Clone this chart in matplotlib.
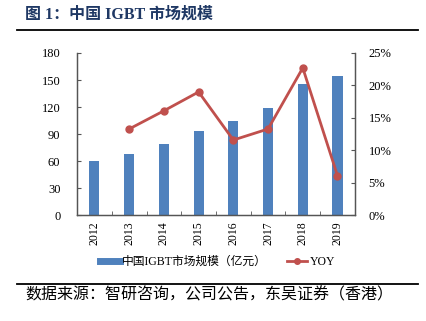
import matplotlib.pyplot as plt
from matplotlib.lines import Line2D
from matplotlib.ticker import FuncFormatter

plt.rcParams['font.family'] = ['Liberation Serif', 'Noto Sans CJK SC']

years = ['2012', '2013', '2014', '2015', '2016', '2017', '2018', '2019']
market_size = [60, 68, 79, 94, 105, 119, 146, 155]
yoy = [None, 0.133, 0.161, 0.190, 0.116, 0.133, 0.227, 0.061]

bar_color = '#4f81bd'
line_color = '#c0504d'

fig = plt.figure(figsize=(4.26, 3.21), dpi=100)
ax = fig.add_axes([0.181, 0.329, 0.652, 0.506])
ax2 = ax.twinx()

x = list(range(len(years)))
ax.bar(x, market_size, width=0.29, color=bar_color, zorder=2)
ax.set_xlim(-0.5, len(years) - 0.5)
ax.set_ylim(0, 180)
ax.set_yticks(range(0, 181, 30))
ax.set_xticks(x)
ax.set_xticklabels(years, rotation=90, fontsize=8.5)
ax.set_xticks([i + 0.5 for i in x[:-1]], minor=True)
ax.tick_params(axis='x', which='major', length=0, pad=4)
ax.tick_params(axis='x', which='minor', direction='in', length=3, color='#555555')
ax.tick_params(axis='y', direction='in', length=3, labelsize=9, pad=12, color='#555555')

yx = [i for i, v in zip(x, yoy) if v is not None]
yv = [v for v in yoy if v is not None]
ax2.plot(yx, yv, color=line_color, linewidth=2, marker='o', markersize=5, zorder=3)
ax2.set_ylim(0, 0.25)
ax2.set_yticks([0, 0.05, 0.10, 0.15, 0.20, 0.25])
ax2.yaxis.set_major_formatter(FuncFormatter(lambda v, p: f'{v * 100:.0f}%'))
ax2.tick_params(axis='y', direction='in', length=3, labelsize=9, pad=10, color='#555555')

for a in (ax, ax2):
    a.spines['top'].set_visible(False)
    for s in ('left', 'right', 'bottom'):
        a.spines[s].set_color('#555555')
        a.spines[s].set_linewidth(0.9)

handles = [
    Line2D([0], [0], color=bar_color, linewidth=5),
    Line2D([0], [0], color=line_color, linewidth=2, marker='o', markersize=4),
]
labels = ['中国IGBT市场规模（亿元）', 'YOY']
fig.legend(handles, labels, loc='center', bbox_to_anchor=(0.51, 0.184), ncol=2,
           frameon=False, handlelength=1.7, columnspacing=1.7, handletextpad=0.2,
           prop={'family': ['Liberation Serif', 'Noto Sans CJK SC'], 'size': 8.5})

fig.text(0.059, 0.953, '图 1：中国 IGBT 市场规模', fontsize=11.5, fontweight='bold',
         color='#1f3864', ha='left', va='center')
fig.add_artist(Line2D([0.040, 0.981], [0.906, 0.906], color='black', linewidth=1.3))
fig.add_artist(Line2D([0.040, 0.981], [0.115, 0.115], color='black', linewidth=1.3))
fig.text(0.059, 0.078, '数据来源：智研咨询，公司公告，东吴证券（香港）', fontsize=11.5,
         color='black', ha='left', va='center')

fig.savefig('out.png', dpi=100)
